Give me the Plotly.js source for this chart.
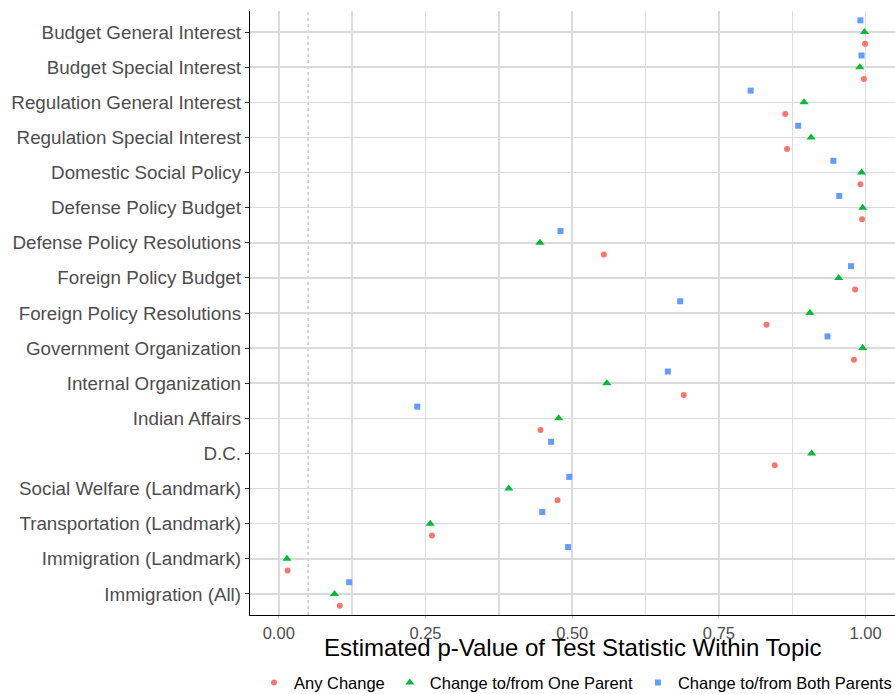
<!DOCTYPE html>
<html>
<head>
<meta charset="utf-8">
<script src="https://cdn.plot.ly/plotly-3.0.1.min.js"></script>
<style>html,body{margin:0;padding:0;background:#fff}#chart{width:895px;height:694px}</style>
</head>
<body>
<div id="chart"></div>
<script>
// Topics, top to bottom
const topics = [
  "Budget General Interest",
  "Budget Special Interest",
  "Regulation General Interest",
  "Regulation Special Interest",
  "Domestic Social Policy",
  "Defense Policy Budget",
  "Defense Policy Resolutions",
  "Foreign Policy Budget",
  "Foreign Policy Resolutions",
  "Government Organization",
  "Internal Organization",
  "Indian Affairs",
  "D.C.",
  "Social Welfare (Landmark)",
  "Transportation (Landmark)",
  "Immigration (Landmark)",
  "Immigration (All)"
];
const anyChange = [0.999, 0.997, 0.863, 0.866, 0.991, 0.994, 0.554, 0.982, 0.831, 0.980, 0.690, 0.446, 0.845, 0.475, 0.261, 0.015, 0.104];
const oneParent = [0.998, 0.990, 0.895, 0.907, 0.993, 0.995, 0.445, 0.954, 0.905, 0.995, 0.559, 0.477, 0.908, 0.392, 0.258, 0.014, 0.095];
const bothParents = [0.991, 0.993, 0.804, 0.885, 0.945, 0.955, 0.480, 0.975, 0.684, 0.935, 0.663, 0.236, 0.464, 0.495, 0.449, 0.493, 0.120];
const seriesNames = ["Any Change", "Change to/from One Parent", "Change to/from Both Parents"];
const xTickVals = [0, 0.25, 0.5, 0.75, 1.0];
const xTickText = ["0.00", "0.25", "0.50", "0.75", "1.00"];
const refLine = 0.05;

const n = topics.length;
const pos = topics.map((t, i) => n - i); // top category highest
const dodge = 1/3;

function trace(vals, name, off, symbol, color, size) {
  return {
    type: "scatter", mode: "markers", name: name,
    x: vals, y: pos.map(p => p + off),
    marker: {symbol: symbol, color: color, size: size, line: {width: 0}},
    hovertemplate: "%{x}<extra>" + name + "</extra>"
  };
}
const data = [
  trace(anyChange, seriesNames[0], -dodge, "circle", "#F8766D", 6),
  trace(oneParent, seriesNames[1], 0, "triangle-up", "#00BA38", 8),
  trace(bothParents, seriesNames[2], dodge, "square", "#619CFF", 6)
];

const layout = {
  width: 895, height: 694,
  margin: {l: 250, r: 0, t: 11, b: 79, autoexpand: false},
  paper_bgcolor: "#fff", plot_bgcolor: "#fff",
  font: {family: "Liberation Sans, Arial, sans-serif", color: "#4d4d4d"},
  showlegend: true,
  legend: {orientation: "h", xref: "container", yref: "container",
           x: 0.643, xanchor: "center", y: 0.016, yanchor: "middle",
           font: {size: 16.5, color: "#000"}, itemwidth: 30, tracegroupgap: 0},
  xaxis: {
    range: [-0.049, 1.05], zeroline: false, automargin: false,
    tickvals: xTickVals, ticktext: xTickText,
    tickfont: {size: 16.5, color: "#4d4d4d"},
    ticks: "outside", ticklen: 3, tickcolor: "#bbb", tickwidth: 1,
    showgrid: false,
    minor: {dtick: 0.125, tick0: 0, showgrid: true, gridcolor: "#dcdcdc", gridwidth: 1.5, ticks: ""},
    showline: true, linecolor: "#000", linewidth: 1.2
  },
  yaxis: {
    range: [0.4, n + 0.6], zeroline: false, automargin: false,
    tickvals: pos, ticktext: topics,
    tickfont: {size: 18.8, color: "#4d4d4d"},
    ticks: "outside", ticklen: 4, tickcolor: "#333", tickwidth: 1,
    showgrid: true, gridcolor: "#dadada", gridwidth: 1.5,
    showline: true, linecolor: "#000", linewidth: 1.2
  },
  annotations: [{text: "Estimated p-Value of Test Statistic Within Topic", xref: "paper", yref: "paper",
                 x: 0.5, y: -0.054, xanchor: "center", yanchor: "middle", showarrow: false,
                 font: {size: 24, color: "#000"}}],
  shapes: [{type: "line", xref: "x", yref: "paper", x0: refLine, x1: refLine, y0: 0, y1: 1,
            line: {color: "#b3b3b3", width: 1, dash: "dot"}, layer: "below"}]
};
Plotly.newPlot("chart", data, layout, {displayModeBar: false, staticPlot: true});
</script>
</body>
</html>
